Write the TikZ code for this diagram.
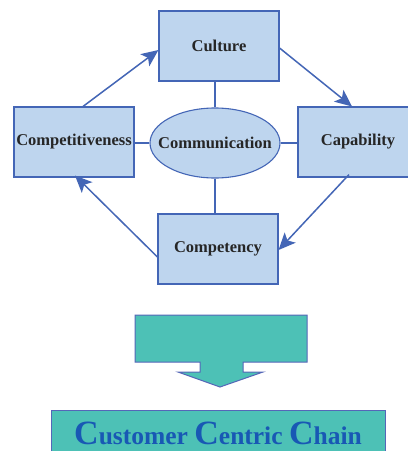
\documentclass[tikz,border=0pt]{standalone}
\usepackage{fontspec}
\setmainfont{Liberation Serif}
\usetikzlibrary{arrows.meta,positioning,shapes.geometric}
\definecolor{boxfill}{HTML}{BED5EE}
\definecolor{boxline}{HTML}{4466B6}
\definecolor{teal}{HTML}{4DC1B6}
\definecolor{tealline}{HTML}{5566B8}
\definecolor{chaintext}{HTML}{1858B4}
\definecolor{ink}{HTML}{262626}
\tikzset{
  cbox/.style={draw=boxline, fill=boxfill, line width=1.1pt, minimum width=120pt,
               minimum height=70pt, inner sep=0pt, font=\fontsize{16.5}{17}\selectfont\bfseries,
               text=ink},
  hub/.style={cbox, ellipse, minimum width=130pt, minimum height=70pt},
  link/.style={draw=boxline, line width=1.1pt},
  ar/.style={-{Stealth[length=17pt, width=15pt, inset=4pt]}, draw=boxline, line width=1.5pt}
}

\begin{document}
\begin{tikzpicture}[x=1pt,y=-1pt]
  \clip (0,0) rectangle (408,451);
  \fill[white] (0,0) rectangle (408,451);

  % the four C's round the hub
  \node[cbox] (culture) at (219,46) {Culture};
  \node[cbox] (competit) at (74,142) {Competitiveness};
  \node[cbox] (capab) at (358,142) {Capability};
  \node[cbox] (compet) at (218,249) {Competency};
  % zero-width box so the ellipse keeps its own size
  \node[hub] (comm) at (215,143) {\makebox[0pt]{Communication}};

  % spokes
  \draw[link] (comm.north) -- (comm.north |- culture.south);
  \draw[link] (comm.south) -- (comm.south |- compet.north);
  \draw[link] (comm.west) -- (competit.east |- comm.west);
  \draw[link] (comm.east) -- (capab.west |- comm.east);

  % the cycle
  \draw[ar] ([xshift=9pt]competit.north) -- ([yshift=-4pt]culture.west);
  \draw[ar] ([yshift=-2pt]culture.east) -- ([xshift=-6pt]capab.north);
  \draw[ar] ([xshift=-9pt,yshift=3pt]capab.south) -- ([yshift=-1pt]compet.east);
  \draw[ar] ([yshift=-8pt]compet.west) -- ([xshift=1pt,yshift=2pt]competit.south);

  % block arrow down to the result
  \draw[draw=tealline, fill=teal, line width=1pt]
    (135,315) -- (307,315) -- (307,362) -- (243,362) -- (243,372) -- (263,372)
    -- (220,387) -- (178,372) -- (200,372) -- (200,362) -- (135,362) -- cycle;
  \coordinate (bigarrow) at (220,387);

  \node[draw=tealline, fill=teal, line width=1pt, anchor=north, minimum width=334pt,
        minimum height=46pt, inner sep=0pt, text=chaintext,
        font=\fontsize{25.5}{26}\selectfont\bfseries] (chain) at (218,410)
    {{\fontsize{34}{34}\selectfont C}ustomer {\fontsize{34}{34}\selectfont C}entric
     {\fontsize{34}{34}\selectfont C}hain};
\end{tikzpicture}
\end{document}
